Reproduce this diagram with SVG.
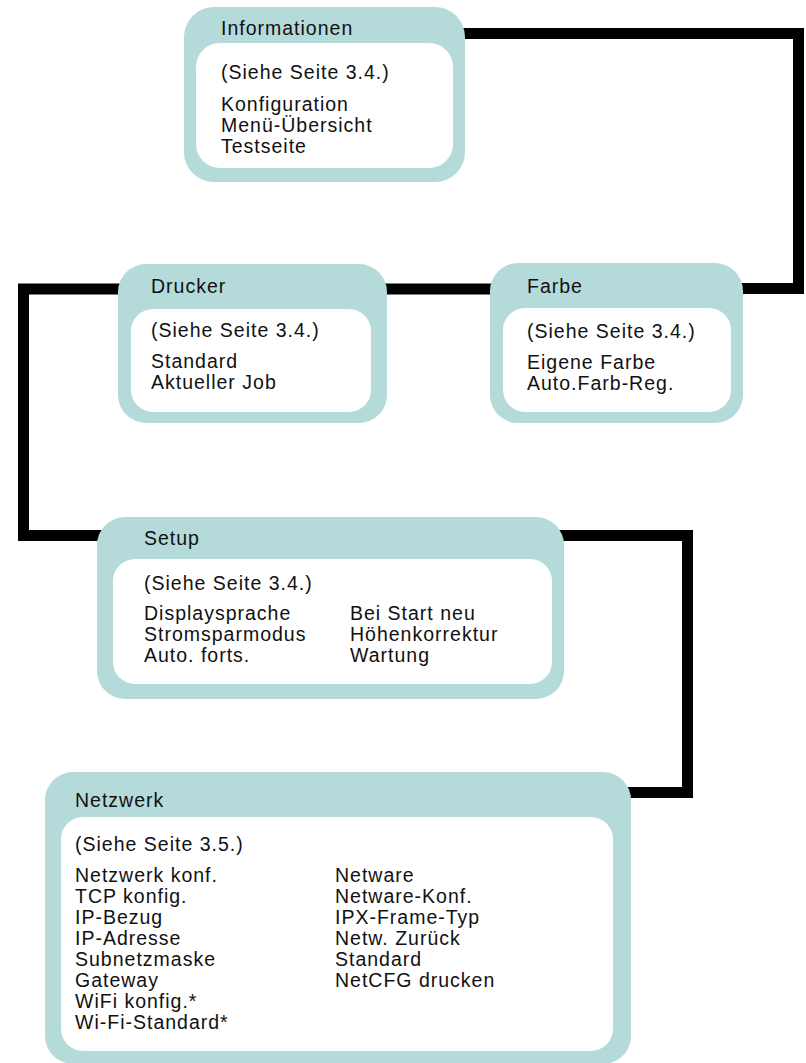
<svg xmlns="http://www.w3.org/2000/svg" width="806" height="1063" viewBox="0 0 806 1063">
<style>
.outer{fill:#b4dad9}
.inner{fill:#ffffff}
.conn{fill:none;stroke:#000;stroke-width:11;stroke-linejoin:miter;stroke-linecap:butt}
text{font-family:"Liberation Sans",Arial,sans-serif;font-size:19.5px;letter-spacing:1px;fill:#111111}
</style>
<rect width="806" height="1063" fill="#ffffff"/>
<g id="connectors">
<path class="conn" d="M455,33.5 H798.5 V288.5 H735"/>
<path class="conn" d="M380,289 H498"/>
<path class="conn" d="M125,289 H23.5 V535.5 H105"/>
<path class="conn" d="M556,535.5 H687.5 V792.5 H623"/>
</g>
<g id="informationen">
<rect class="outer" x="184" y="7" width="281" height="175" rx="30"/>
<rect class="inner" x="196" y="43" width="257" height="125" rx="24"/>
<text x="221" y="35">Informationen</text>
<text x="221" y="79">(Siehe Seite 3.4.)</text>
<text x="221" y="111">Konfiguration</text>
<text x="221" y="132">Menü-Übersicht</text>
<text x="221" y="153">Testseite</text>
</g>
<g id="drucker">
<rect class="outer" x="118" y="264" width="269" height="159" rx="28"/>
<rect class="inner" x="131" y="309" width="240" height="103" rx="22"/>
<text x="151" y="293">Drucker</text>
<text x="151" y="337">(Siehe Seite 3.4.)</text>
<text x="151" y="368">Standard</text>
<text x="151" y="389">Aktueller Job</text>
</g>
<g id="farbe">
<rect class="outer" x="490" y="263" width="253" height="160" rx="28"/>
<rect class="inner" x="503" y="308" width="228" height="104" rx="22"/>
<text x="527" y="293">Farbe</text>
<text x="527" y="338">(Siehe Seite 3.4.)</text>
<text x="527" y="369">Eigene Farbe</text>
<text x="527" y="390">Auto.Farb-Reg.</text>
</g>
<g id="setup">
<rect class="outer" x="97" y="517" width="467" height="182" rx="28"/>
<rect class="inner" x="113" y="559" width="439" height="125" rx="22"/>
<text x="144" y="545">Setup</text>
<text x="144" y="590">(Siehe Seite 3.4.)</text>
<text x="144" y="620">Displaysprache</text>
<text x="144" y="641">Stromsparmodus</text>
<text x="144" y="662">Auto. forts.</text>
<text x="350" y="620">Bei Start neu</text>
<text x="350" y="641">Höhenkorrektur</text>
<text x="350" y="662">Wartung</text>
</g>
<g id="netzwerk">
<rect class="outer" x="45" y="772" width="586" height="292" rx="28"/>
<rect class="inner" x="61" y="817" width="552" height="234" rx="22"/>
<text x="75" y="807">Netzwerk</text>
<text x="75" y="851">(Siehe Seite 3.5.)</text>
<text x="75" y="882">Netzwerk konf.</text>
<text x="75" y="903">TCP konfig.</text>
<text x="75" y="924">IP-Bezug</text>
<text x="75" y="945">IP-Adresse</text>
<text x="75" y="966">Subnetzmaske</text>
<text x="75" y="987">Gateway</text>
<text x="75" y="1008">WiFi konfig.*</text>
<text x="75" y="1029">Wi-Fi-Standard*</text>
<text x="335" y="882">Netware</text>
<text x="335" y="903">Netware-Konf.</text>
<text x="335" y="924">IPX-Frame-Typ</text>
<text x="335" y="945">Netw. Zurück</text>
<text x="335" y="966">Standard</text>
<text x="335" y="987">NetCFG drucken</text>
</g>
</svg>
